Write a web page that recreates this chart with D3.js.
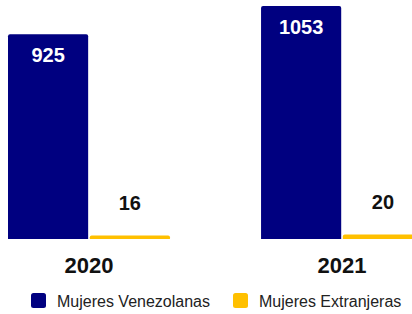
<!DOCTYPE html>
<html>
<head>
<meta charset="utf-8">
<script src="https://cdn.jsdelivr.net/npm/d3@7"></script>
<style>
  html, body { margin: 0; padding: 0; background: #fff; }
  svg { display: block; font-family: "Liberation Sans", Arial, sans-serif; }
</style>
</head>
<body>
<div id="chart"></div>
<script>
// data
var years = ["2020", "2021"];
var series = ["Mujeres Venezolanas", "Mujeres Extranjeras"];
var venezolanas = [925, 1053];
var extranjeras = [16, 20];
var colors = ["#000080", "#FFC000"];

var width = 412, height = 314;
var baseY = 239;

var rows = years.map(function (y, i) {
  return { year: y, values: [venezolanas[i], extranjeras[i]] };
});

var svg = d3.select("#chart").append("svg")
  .attr("width", width)
  .attr("height", height);

var x0 = d3.scaleBand()
  .domain(years)
  .range([8, 423])
  .paddingInner(0.36);

var x1 = d3.scaleBand()
  .domain(series)
  .range([0, x0.bandwidth()])
  .paddingInner(0.02);

var y = d3.scaleLinear()
  .domain([0, d3.max(venezolanas)])
  .range([baseY, 6]);

var group = svg.selectAll("g.year")
  .data(rows)
  .enter()
  .append("g")
  .attr("class", "year")
  .attr("transform", function (d) { return "translate(" + x0(d.year) + ",0)"; });

// bars with slightly rounded top corners
function barPath(x, top, w, bottom, r) {
  r = Math.min(r, (bottom - top) / 2);
  return "M" + x + "," + bottom +
    "V" + (top + r) +
    "Q" + x + "," + top + " " + (x + r) + "," + top +
    "H" + (x + w - r) +
    "Q" + (x + w) + "," + top + " " + (x + w) + "," + (top + r) +
    "V" + bottom + "Z";
}

group.selectAll("path")
  .data(function (d) { return d.values.map(function (v, i) { return { key: series[i], value: v, i: i }; }); })
  .enter()
  .append("path")
  .attr("d", function (d) {
    return barPath(x1(d.key), y(d.value), x1.bandwidth(), baseY, 2);
  })
  .attr("fill", function (d) { return colors[d.i]; });

// value labels: inside (white) for tall bars, above for short ones
group.selectAll("text.val")
  .data(function (d) { return d.values.map(function (v, i) { return { key: series[i], value: v, i: i }; }); })
  .enter()
  .append("text")
  .attr("class", "val")
  .attr("x", function (d) { return x1(d.key) + x1.bandwidth() / 2; })
  .attr("y", function (d) {
    return d.i === 0 ? y(d.value) + 27.5 : y(d.value) - 25.5;
  })
  .attr("text-anchor", "middle")
  .attr("font-size", 20)
  .attr("font-weight", "bold")
  .attr("fill", function (d) { return d.i === 0 ? "#fff" : "#111"; })
  .text(function (d) { return d.value; });

// year labels
group.append("text")
  .attr("x", x0.bandwidth() / 2)
  .attr("y", 273)
  .attr("text-anchor", "middle")
  .attr("font-size", 22)
  .attr("font-weight", "bold")
  .attr("fill", "#111")
  .text(function (d) { return d.year; });

// legend
var legendX = [31, 233];
var legend = svg.selectAll("g.legend")
  .data(series)
  .enter()
  .append("g")
  .attr("class", "legend")
  .attr("transform", function (d, i) { return "translate(" + legendX[i] + ",293)"; });

legend.append("rect")
  .attr("width", 15)
  .attr("height", 15)
  .attr("rx", 2.5)
  .attr("fill", function (d, i) { return colors[i]; });

legend.append("text")
  .attr("x", 26)
  .attr("y", 13.5)
  .attr("font-size", 16)
  .attr("fill", "#222")
  .text(function (d) { return d; });
</script>
</body>
</html>
